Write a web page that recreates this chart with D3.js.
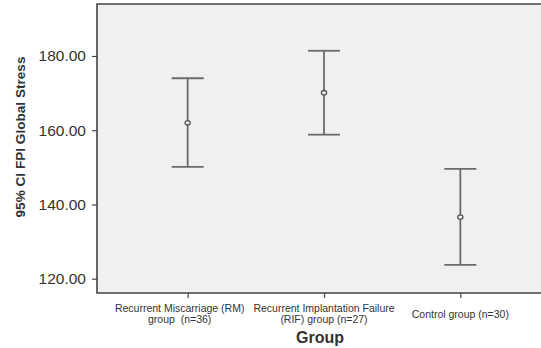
<!DOCTYPE html>
<html>
<head>
<meta charset="utf-8">
<script src="https://cdn.jsdelivr.net/npm/d3@7"></script>
<style>
  html, body { margin: 0; padding: 0; background: #fff; }
  svg { display: block; }
</style>
</head>
<body>
<svg id="chart" width="541" height="348"></svg>
<script>
// Group labels (two lines each where wrapped)
const groups = [
  ["Recurrent Miscarriage (RM)", "group  (n=36)"],
  ["Recurrent Implantation Failure", "(RIF) group (n=27)"],
  ["Control group (n=30)"]
];
// Mean and 95% CI bounds for FPI Global Stress
const means = [162.0, 170.1, 136.6];
const lower = [150.1, 158.8, 123.7];
const upper = [174.0, 181.4, 149.6];
const yTicks = [120, 140, 160, 180];

(function () {
  const svg = d3.select("#chart");
  const pl = 97, pt = 4, pb = 293, pr = 551;
  const font = "Arial, 'Liberation Sans', sans-serif";

  const x = d3.scalePoint()
    .domain(d3.range(groups.length))
    .range([pl, pr])
    .padding(0.665);

  const y = d3.scaleLinear()
    .domain([116.15, 194])
    .range([pb, pt]);

  // plot background
  svg.append("rect")
    .attr("x", pl).attr("y", pt)
    .attr("width", pr - pl).attr("height", pb - pt)
    .attr("fill", "#f0f0f0");

  // y axis
  const yAxis = svg.append("g")
    .attr("transform", `translate(${pl},0)`)
    .call(d3.axisLeft(y).tickValues(yTicks).tickFormat(d3.format(".2f")).tickSize(5).tickPadding(6));
  yAxis.select(".domain").remove();
  yAxis.selectAll("line").attr("stroke", "#444").attr("stroke-width", 1.2);
  yAxis.selectAll("text")
    .attr("fill", "#333")
    .style("font-family", font)
    .style("font-size", "15.5px");

  // x axis ticks
  const xAxis = svg.append("g")
    .attr("transform", `translate(0,${pb})`)
    .call(d3.axisBottom(x).tickSize(5).tickFormat(""));
  xAxis.select(".domain").remove();
  xAxis.selectAll("line").attr("stroke", "#444").attr("stroke-width", 1.2);

  // category labels (the first one nudged left so it clears its neighbour)
  const labelShift = [-8, 0, 0];
  groups.forEach((lines, i) => {
    const lx = x(i) + labelShift[i];
    const t = svg.append("text")
      .attr("text-anchor", "middle")
      .attr("fill", "#333")
      .style("white-space", "pre")
      .style("font-family", font)
      .style("font-size", "10.5px");
    const y0 = lines.length === 1 ? 318 : 312;
    lines.forEach((s, k) => {
      t.append("tspan").attr("x", lx).attr("y", y0 + k * 11).text(s);
    });
  });

  // frame
  svg.append("path")
    .attr("d", `M${pr},${pt}H${pl}V${pb}H${pr}`)
    .attr("fill", "none")
    .attr("stroke", "#444")
    .attr("stroke-width", 1.6);

  // error bars
  const capHalf = 16;
  const bars = svg.append("g").attr("stroke", "#6b6b6f").attr("stroke-width", 1.8).attr("fill", "none");
  means.forEach((m, i) => {
    const cx = x(i);
    bars.append("line").attr("x1", cx).attr("x2", cx).attr("y1", y(upper[i])).attr("y2", y(lower[i]));
    bars.append("line").attr("x1", cx - capHalf).attr("x2", cx + capHalf).attr("y1", y(upper[i])).attr("y2", y(upper[i]));
    bars.append("line").attr("x1", cx - capHalf).attr("x2", cx + capHalf).attr("y1", y(lower[i])).attr("y2", y(lower[i]));
    bars.append("ellipse").attr("cx", cx).attr("cy", y(m)).attr("rx", 2.6).attr("ry", 2.2)
      .attr("fill", "#f0f0f0").attr("stroke", "#555").attr("stroke-width", 1.3);
  });

  // axis titles
  svg.append("text")
    .attr("transform", "translate(25,137) rotate(-90)")
    .attr("text-anchor", "middle")
    .attr("fill", "#333")
    .style("font-family", font)
    .style("font-weight", "bold")
    .style("font-size", "13.6px")
    .text("95% CI FPI Global Stress");

  svg.append("text")
    .attr("x", 320).attr("y", 343)
    .attr("text-anchor", "middle")
    .attr("fill", "#333")
    .style("font-family", font)
    .style("font-weight", "bold")
    .style("font-size", "16px")
    .text("Group");
})();
</script>
</body>
</html>
